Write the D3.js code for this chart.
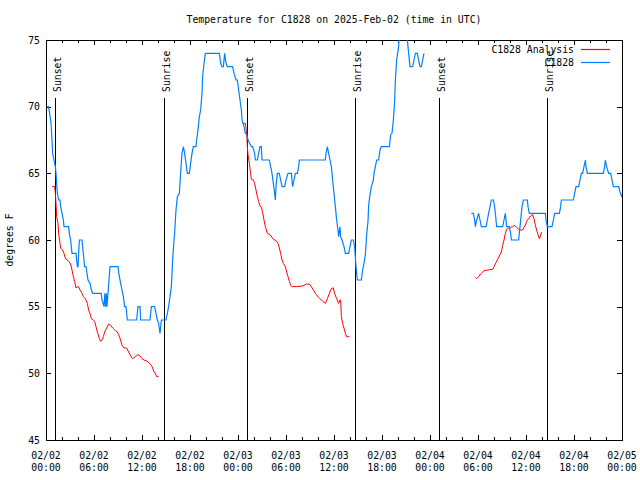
<!DOCTYPE html>
<html><head><meta charset="utf-8">
<script src="https://cdn.jsdelivr.net/npm/d3@7"></script>
<style>body{margin:0;background:#fff}svg{display:block}text{font-family:"DejaVu Sans Mono","Liberation Mono",monospace;font-size:9.8px;fill:#000}</style>
</head><body><svg id="c" width="640" height="480"></svg>
<script>
const title = "Temperature for C1828 on 2025-Feb-02 (time in UTC)";
const yLabel = "degrees F";
const startTime = "2025-02-02T00:00:00Z";
const endTime = "2025-02-05T00:00:00Z";
const yTicks = [45, 50, 55, 60, 65, 70, 75];
const seriesNames = ["C1828 Analysis", "C1828"];
const seriesColors = ["#ff0000", "#0080ff"];
// sun events: hours after start
const sunHours = [1.16, 14.78, 25.16, 38.66, 49.16, 62.66];
const sunLabels = ["Sunset", "Sunrise", "Sunset", "Sunrise", "Sunset", "Sunrise"];
// observations (C1828): hours after start, degrees F (null = gap)
const obsHours = [0.17,0.33,0.45,0.63,0.75,0.83,1.0,1.17,1.25,1.33,1.42,1.58,1.75,1.83,2.0,2.17,2.25,2.83,2.92,3.08,3.25,3.75,3.83,3.92,4.0,4.08,4.17,4.5,4.58,4.83,5.0,5.25,5.5,5.67,5.83,6.9,7.0,7.25,7.35,7.45,7.55,7.62,7.75,8.0,9.0,9.1,9.33,9.5,9.67,9.83,10.0,10.17,11.33,11.5,11.75,11.83,13.0,13.17,13.58,13.75,13.92,14.08,14.25,14.42,15.0,15.17,15.33,15.5,15.67,15.75,15.83,16.0,16.08,16.17,16.25,16.42,16.67,16.83,17.0,17.17,17.33,17.5,17.67,17.92,18.08,18.25,18.42,18.75,18.83,19.0,19.17,19.33,19.5,19.58,19.75,19.92,21.67,21.83,22.0,22.17,22.33,22.5,22.67,23.33,23.5,23.75,23.92,24.08,24.25,24.42,24.5,24.75,24.92,25.08,25.25,25.67,25.83,26.08,26.17,26.42,26.58,26.75,26.92,27.0,27.92,28.08,28.25,28.42,28.58,28.67,28.75,28.92,29.17,29.33,29.5,29.83,30.0,30.25,30.67,30.83,31.0,31.17,31.42,31.58,31.67,34.92,35.0,35.17,35.33,35.5,35.67,35.83,36.0,36.17,36.33,36.5,36.58,36.75,36.83,37.0,37.25,37.42,37.83,38.0,38.17,38.42,38.58,38.67,38.75,38.92,39.42,39.58,39.75,39.92,40.0,40.08,40.25,40.33,40.5,40.67,40.92,41.0,41.17,41.33,41.58,41.75,41.92,42.92,43.08,43.25,43.42,43.58,43.67,43.83,44.08,44.17,45.08,45.17,45.33,45.5,45.83,46.0,46.17,46.42,46.58,46.75,46.92,47.08,47.25,47.3,53.17,53.42,53.58,53.67,53.83,54.08,54.25,54.42,55.0,55.17,55.33,55.5,55.67,55.92,56.08,56.17,56.33,57.08,57.25,57.42,57.58,57.92,58.08,58.17,59.08,59.25,59.42,59.5,59.67,60.17,60.25,60.42,62.42,62.5,62.67,63.25,63.42,63.58,64.17,64.33,64.42,65.92,66.08,66.25,66.58,66.75,66.92,67.08,67.25,67.42,67.5,67.67,69.67,69.83,69.92,70.08,70.33,70.58,70.75,70.92,71.58,71.75,72.0];
const obsTemps = [70,70,69.5,68.75,67.5,66.5,66,65.5,65,64.25,63.5,63,63,62.5,62,61.5,61,61,60.5,60,59,59,58.5,58,58,59,60,60,59.5,58,58,57,56.75,56.25,56,56,55.5,55,56,55,56,55,56,58,58,57.5,56.75,56.25,55.75,55,55,54,54,55,55,54,54,55,55,54.5,54,53.75,53,54,54,54.5,55,55.75,56.5,57.5,58.5,60,60.5,61.5,62.25,63.25,63.5,65,66.5,67,66.5,65.75,65,65,65.75,66.5,67,67,67.5,68.25,69.25,69.75,71,72.25,73.25,74,74,73.25,73,73,74,73.25,73,73,72.5,72,72,71.25,70.5,69.75,69,68.5,68,68,67.5,67,67,66.5,66,66,66.5,67,67,66,66,65.5,65,64.25,63.5,63,64,65,65,64.5,64,64,64.5,65,65,64,64.5,65,65,65.5,66,66,66.5,67,66.5,66,65.5,64.5,63.5,62.5,61.5,60.75,60.25,61,60.25,60,59.5,59,59,59.5,60,60,59.5,58.75,58,57,57,57.75,58.25,58.9,59.6,60.4,61.4,62.6,63.4,64,64.5,65,65.5,66,66,66.75,67,67,67.9,68,69,70.4,72,73.5,74.5,76,76,75,74,73,73,73.5,74,74,73.5,73,73,73.5,74,null,62,62,61.5,61,61.5,62,61.5,61,61,61.5,62,62.5,63,63,62.5,62,61,61,61.5,62,61,61,60.5,60,60,61,62,62.5,63,63,62.5,62,62,61.5,61,61,61.5,62,62,62.5,63,63,63.5,64,64,64.5,65,65,65.5,66,65.5,65,65,65.5,66,65.5,65,65,64.5,64,64,63.6,63.2];
// analysis (C1828 Analysis)
const anaHours = [0.75,1.08,1.17,1.25,1.33,1.5,1.58,1.75,1.83,2.08,2.25,2.42,2.67,2.83,3.08,3.25,3.42,3.58,3.75,3.92,4.08,4.25,4.5,4.67,4.92,5.17,5.33,5.5,5.67,5.92,6.08,6.25,6.42,6.67,6.83,7.0,7.17,7.33,7.58,7.83,8.08,8.33,8.67,8.92,9.08,9.33,9.5,9.75,10.08,10.33,10.58,10.83,11.17,11.5,11.75,12.0,12.25,12.67,12.92,13.17,13.33,13.5,13.67,13.83,14.08,14.1,24.58,24.92,25.0,25.08,25.17,25.25,25.42,25.58,25.67,25.92,26.08,26.25,26.42,26.58,26.75,26.92,27.08,27.25,27.42,27.67,28.0,28.25,28.42,28.75,29.0,29.17,29.33,29.5,29.67,29.92,30.08,30.25,30.42,30.58,30.75,31.33,32.08,32.58,32.92,33.17,33.42,33.67,33.92,34.25,34.58,34.92,35.17,35.42,35.58,35.75,35.92,36.08,36.33,36.58,36.75,36.83,36.92,37.08,37.25,37.42,37.58,37.92,37.95,53.67,53.83,54.08,54.33,54.75,55.25,55.83,56.0,56.25,56.5,56.75,56.92,57.08,57.25,57.42,57.58,57.83,58.08,58.33,58.58,58.83,59.08,59.33,59.58,59.75,59.92,60.08,60.33,60.58,60.83,61.0,61.17,61.33,61.5,61.67,61.83,61.92];
const anaTemps = [64,64,63.5,62.75,61.75,61.25,60.5,59.75,59.4,59.25,59,58.6,58.5,58.4,58.2,57.75,57.25,56.9,56.4,56.5,56.5,56.25,56,55.75,55.6,55.25,54.75,54.5,54.1,54,53.9,53.5,53.1,52.6,52.4,52.5,52.75,53.1,53.4,53.7,53.6,53.4,53.2,53.1,52.9,52.5,52.1,51.9,51.9,51.6,51.3,51.1,51.25,51.4,51.3,51.1,51,50.9,50.75,50.6,50.4,50.1,50,49.75,49.75,null,68.75,68.75,68.4,68,67,66.4,65.75,65,64.55,64.5,64.25,63.75,63.25,62.9,62.55,62.45,62.05,61.5,61,60.5,60.4,60.2,60.05,59.95,59.75,59.4,59,58.5,58.25,58,57.6,57.25,56.9,56.6,56.5,56.5,56.55,56.7,56.7,56.5,56.25,56,55.8,55.6,55.4,55.25,55.6,56,56.25,56.4,56.4,56,55.6,55.25,55.5,55.5,54.25,53.75,53.4,53,52.75,52.75,null,57.2,57.1,57.25,57.45,57.7,57.75,57.8,58,58.3,58.6,58.9,59.1,59.6,60,60.5,60.8,60.9,60.95,61,61.1,60.95,60.8,60.75,60.75,60.95,61.1,61.4,61.6,61.8,61.9,61.6,61.1,60.75,60.4,60.1,60.3,60.6];

const svg = d3.select("#c");
const L = 46, R = 622, T = 40, B = 440;
const t0 = new Date(startTime), t1 = new Date(endTime);
const hr = h => new Date(t0.getTime() + h * 3600000);
const x = d3.scaleUtc().domain([t0, t1]).range([L, R]);
const y = d3.scaleLinear().domain([45, 75]).range([B, T]);

svg.append("defs").append("clipPath").attr("id", "clip")
  .append("rect").attr("x", L).attr("y", T).attr("width", R - L).attr("height", B - T);

// title
svg.append("text").attr("x", (L + R) / 2).attr("y", 23).attr("text-anchor", "middle").text(title);
// y label
svg.append("text").attr("transform", `translate(13,240) rotate(-90)`).attr("text-anchor", "middle").text(yLabel);

// axes
const major = d3.utcHour.every(6).range(t0, d3.utcHour.offset(t1, 1));
const minor = d3.utcHour.every(2).range(t0, d3.utcHour.offset(t1, 1));
const axB = svg.append("g").attr("transform", `translate(0,${B})`)
  .call(d3.axisBottom(x).tickValues(minor).tickSize(-3).tickFormat(""));
const axB2 = svg.append("g").attr("transform", `translate(0,${B})`)
  .call(d3.axisBottom(x).tickValues(major).tickSize(-5).tickPadding(10).tickFormat(""));
const axT = svg.append("g").attr("transform", `translate(0,${T})`)
  .call(d3.axisTop(x).tickValues(minor).tickSize(-3).tickFormat(""));
const axT2 = svg.append("g").attr("transform", `translate(0,${T})`)
  .call(d3.axisTop(x).tickValues(major).tickSize(-5).tickFormat(""));
const axL = svg.append("g").attr("transform", `translate(${L},0)`)
  .call(d3.axisLeft(y).tickValues(yTicks).tickSize(-5).tickPadding(11).tickFormat(d3.format("d")));
const axR = svg.append("g").attr("transform", `translate(${R},0)`)
  .call(d3.axisRight(y).tickValues(yTicks).tickSize(-5).tickFormat(""));
[axB, axB2, axT, axT2, axL, axR].forEach(g => {
  g.select(".domain").remove();
  g.selectAll("line").attr("stroke", "#000").attr("shape-rendering", "crispEdges");
  g.selectAll("text").attr("font-family", null).attr("font-size", null).attr("fill", "#000");
});
axL.selectAll("text").attr("x", -6).attr("dx", 0);
// two-line x labels
const fmtD = d3.utcFormat("%m/%d"), fmtH = d3.utcFormat("%H:%M");
const xl = svg.append("g");
major.forEach(d => {
  const t = xl.append("text").attr("x", x(d)).attr("y", 459).attr("text-anchor", "middle");
  t.append("tspan").attr("x", x(d)).text(fmtD(d));
  t.append("tspan").attr("x", x(d)).attr("dy", 12).text(fmtH(d));
});

// border
svg.append("rect").attr("x", L).attr("y", T).attr("width", R - L).attr("height", B - T)
  .attr("fill", "none").attr("stroke", "#000").attr("shape-rendering", "crispEdges");

// sun lines
sunHours.forEach((h, i) => {
  const xx = Math.round(x(hr(h))) + 0.5;
  svg.append("line").attr("x1", xx).attr("x2", xx).attr("y1", 98).attr("y2", B).attr("stroke", "#000");
  svg.append("text").attr("transform", `translate(${xx + 5},92) rotate(-90)`).text(sunLabels[i]);
});

// series
const mk = (hs, vs) => hs.map((h, i) => ({ t: hr(h), v: vs[i] }));
const line = d3.line().defined(d => d.v !== null).x(d => x(d.t)).y(d => y(d.v));
const plot = svg.append("g").attr("clip-path", "url(#clip)");
plot.append("path").datum(mk(anaHours, anaTemps)).attr("d", line)
  .attr("fill", "none").attr("stroke", seriesColors[0]).attr("stroke-width", 1);
plot.append("path").datum(mk(obsHours, obsTemps)).attr("d", line)
  .attr("fill", "none").attr("stroke", seriesColors[1]).attr("stroke-width", 1.2);

// legend
seriesNames.forEach((n, i) => {
  const yy = 49 + i * 13;
  svg.append("text").attr("x", 574).attr("y", yy + 3.5).attr("text-anchor", "end").text(n);
  svg.append("line").attr("x1", 581).attr("x2", 610).attr("y1", yy + 0.5).attr("y2", yy + 0.5)
    .attr("stroke", seriesColors[i]).attr("stroke-width", 1.2);
});
</script></body></html>
